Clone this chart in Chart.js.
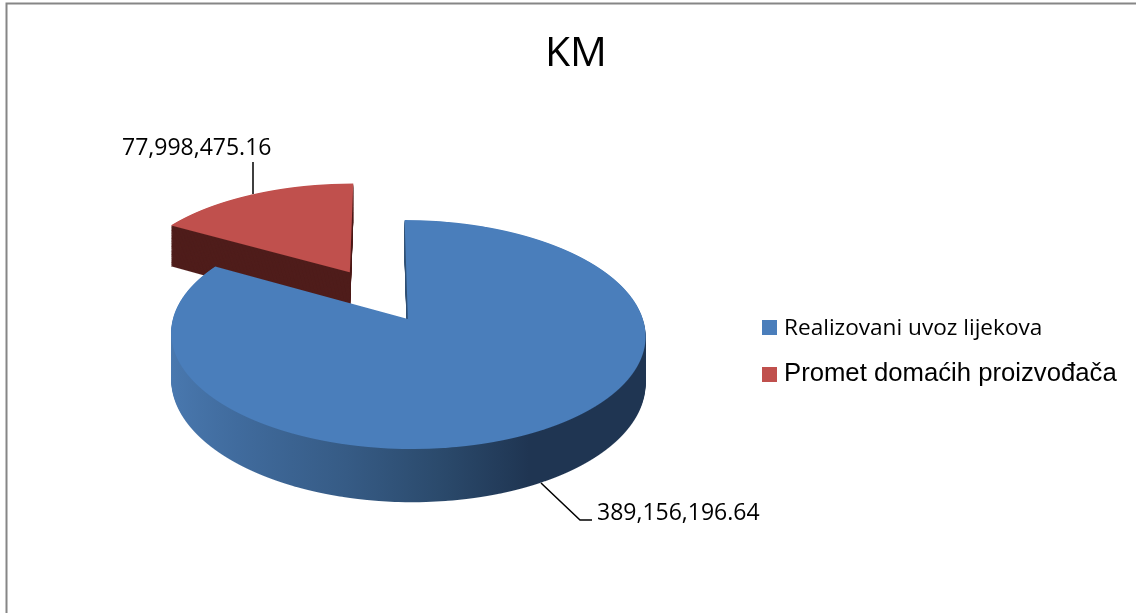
<!DOCTYPE html>
<html>
<head>
<meta charset="utf-8">
<title>KM</title>
<script src="https://cdn.jsdelivr.net/npm/chart.js@4"></script>
<style>
  html, body { margin: 0; padding: 0; background: #fff; }
  #wrap { width: 1136px; height: 613px; }
</style>
</head>
<body>
<div id="wrap"><canvas id="myChart"></canvas></div>
<script>
const chartTitle = "KM";
const categories = ["Realizovani uvoz lijekova", "Promet domaćih proizvođača"];
const seriesValues = [389156196.64, 77998475.16];

const topColors = ["#4a7ebb", "#c0504d"];

// how the flat pie is tilted into the 3D look
const R = 236;
const view = { vx: 380, xo: 28, y: 319, k: 235 / R, m: 112.4 / R, q: 0.1354 / R, depth: 46, layerStep: 1 };
const explode = [0, 120];

function money(v) {
  return v.toLocaleString("en-US", { minimumFractionDigits: 2, maximumFractionDigits: 2 });
}

// one pass of a slice through the tilted view, a pixel row at a time
function paintSlice(chart, arc, fill, z, index) {
  const ctx = chart.ctx;
  const mid = (arc.startAngle + arc.endAngle) / 2;
  const ox = Math.cos(mid) * explode[index];
  const oy = Math.sin(mid) * explode[index];
  const ghost = Object.create(arc);
  ghost.options = Object.assign({}, arc.options, { backgroundColor: fill });

  for (let row = 150; row < 530; row++) {
    const d = row + 0.5 - view.y;
    const Y = (d - view.depth * z) / (view.m + d * view.q);
    if (Y < oy - R - 1 || Y > oy + R + 1) continue;
    const w = 1 - view.q * Y;
    const a = view.k / w;
    const b = (view.m + view.q * view.depth * z) / (w * w);
    ctx.save();
    ctx.beginPath();
    ctx.rect(0, row, chart.width, 1);
    ctx.clip();
    ctx.setTransform(a, 0, 0, b, view.vx + a * (view.xo + ox - arc.x), row + 0.5 - b * (arc.y + Y - oy));
    ghost.draw(ctx);
    ctx.restore();
  }
}

const tiltedPie = {
  id: "tiltedPie",
  beforeDraw(chart) {
    const ctx = chart.ctx;
    ctx.save();
    ctx.strokeStyle = "#868686";
    ctx.lineWidth = 2;
    ctx.beginPath();
    ctx.moveTo(6.5, chart.height);
    ctx.lineTo(6.5, 3.5);
    ctx.lineTo(chart.width, 3.5);
    ctx.stroke();
    ctx.restore();
  },
  beforeDatasetsDraw(chart) {
    const ctx = chart.ctx;
    const arcs = chart.getDatasetMeta(0).data;

    const side = ctx.createLinearGradient(arcs[0].x - R, 0, arcs[0].x + R, 0);
    side.addColorStop(0, "#4a79b0");
    side.addColorStop(0.17, "#406b9d");
    side.addColorStop(0.38, "#365b85");
    side.addColorStop(0.55, "#2b4a6c");
    side.addColorStop(0.72, "#1f3552");
    side.addColorStop(1, "#1f3552");
    const sideColors = [side, "#4f1d1b"];

    // red sits behind the blue slice
    for (let i = arcs.length - 1; i >= 0; i--) {
      for (let px = view.depth; px > 0; px -= view.layerStep) {
        paintSlice(chart, arcs[i], sideColors[i], px / view.depth, i);
      }
      paintSlice(chart, arcs[i], topColors[i], 0, i);
    }
    return false;
  },
  afterDraw(chart) {
    const ctx = chart.ctx;
    ctx.save();

    // leader lines
    ctx.strokeStyle = "#000";
    ctx.lineWidth = 1.5;
    ctx.beginPath();
    ctx.moveTo(253, 162);
    ctx.lineTo(253, 194);
    ctx.moveTo(541, 483);
    ctx.lineTo(580, 520);
    ctx.lineTo(592, 520);
    ctx.stroke();

    // data labels
    ctx.fillStyle = "#000";
    ctx.textBaseline = "alphabetic";
    ctx.font = "23px 'Open Sans'";
    ctx.fillText(money(seriesValues[1]), 122, 155);
    ctx.fillText(money(seriesValues[0]), 597, 520);

    // legend
    ctx.fillStyle = topColors[0];
    ctx.fillRect(762, 320, 15, 15);
    ctx.fillStyle = topColors[1];
    ctx.fillRect(762, 367, 15, 15);
    ctx.fillStyle = "#000";
    ctx.font = "22.6px 'Open Sans'";
    ctx.fillText(categories[0], 784, 335);
    ctx.font = "25.7px 'Liberation Sans'";
    ctx.fillText(categories[1], 784, 381);
    ctx.restore();
  }
};

const chart = new Chart(document.getElementById("myChart"), {
  type: "pie",
  data: {
    labels: categories,
    datasets: [{ data: seriesValues, backgroundColor: topColors, borderWidth: 0 }]
  },
  options: {
    responsive: true,
    maintainAspectRatio: false,
    animation: false,
    events: [],
    radius: R,
    layout: { padding: { left: 16 } },
    plugins: {
      legend: { display: false },
      tooltip: { enabled: false },
      title: {
        display: true,
        text: chartTitle,
        color: "#000",
        font: { family: "'Open Sans'", size: 41, weight: "normal" },
        padding: { top: 30, bottom: 10 }
      }
    }
  },
  plugins: [tiltedPie]
});
</script>
</body>
</html>
